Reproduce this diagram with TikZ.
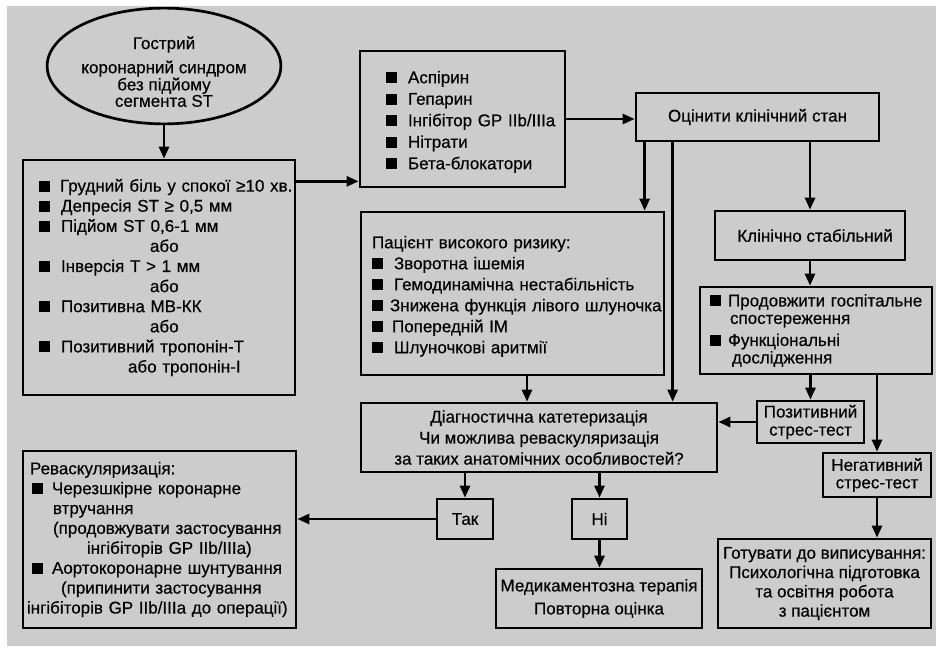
\documentclass[tikz,border=0pt]{standalone}
\usepackage{fontspec}
\setmainfont{Liberation Sans}[FakeBold=0.5]
\usetikzlibrary{shapes.geometric,arrows.meta}
\definecolor{bggray}{RGB}{204,204,204}
\newcommand{\sq}[1][11pt]{\rule{11pt}{11pt}\hspace{#1}}

\begin{document}
\begin{tikzpicture}[x=1pt, y=-1pt, line width=2.7pt, >={Triangle[length=12pt, width=10pt]}]
    \tikzstyle{oval} = [shape=ellipse, draw=black, inner sep=0pt, minimum width=182pt, minimum height=102pt, align=center, font=\fontsize{17}{15}\selectfont]
    \tikzstyle{box} = [shape=rectangle, draw=black, inner sep=0pt, font=\fontsize{17}{20.5}\selectfont]
    \tikzstyle{lbox} = [box, align=left]
    \tikzstyle{cbox} = [box, align=center]

    \useasboundingbox (0,0) rectangle (936,647);
    \fill [white] (0,0) rectangle (936,647);
    \fill [bggray] (7,6) rectangle (936,646);

    \node (acs) [oval] at (164,66) {\rule{0pt}{24pt}Гострий\\[7pt]коронарний синдром\\без підйому\\сегмента ST};
    \node (crit) [lbox, minimum width=272pt, minimum height=235pt, text width=240pt, font=\fontsize{17}{20.1}\selectfont] at (159,277.5)
        {\mbox{\sq[10pt]Грудний біль у спокої ≥10 хв.}\\
         \mbox{\sq Депресія ST ≥ 0,5 мм}\\
         \mbox{\sq Підйом ST 0,6-1 мм}\\
         \hspace*{111pt}або\\
         \mbox{\sq Інверсія T > 1 мм}\\
         \hspace*{111pt}або\\
         \mbox{\sq Позитивна МВ-КК}\\
         \hspace*{111pt}або\\
         \mbox{\sq Позитивний тропонін-Т}\\
         \hspace*{89pt}\mbox{або тропонін-І}};
    \node (drugs) [lbox, minimum width=205pt, minimum height=136pt, text width=153pt, font=\fontsize{17}{21.5}\selectfont] at (462.5,119)
        {\rule{0pt}{18pt}\sq Аспірин\\ \sq Гепарин\\ \mbox{\sq Інгібітор GP IIb/IIIa}\\ \sq Нітрати\\ \sq Бета-блокатори};
    \node (eval) [cbox, minimum width=243pt, minimum height=48pt] at (757.5,117) {Оцінити клінічний стан};
    \node (risk) [lbox, minimum width=303pt, minimum height=163pt, text width=281pt, font=\fontsize{17}{21}\selectfont] at (512.5,293.5)
        {\rule{0pt}{18pt}\mbox{Пацієнт високого ризику:}\\
         \mbox{\sq Зворотна ішемія}\\
         \mbox{\sq Гемодинамічна нестабільність}\\
         \mbox{\sq[7pt]Знижена функція лівого шлуночка}\\
         \mbox{\sq[9pt]Попередній ІМ}\\
         \mbox{\sq Шлуночкові аритмії}};
    \node (stable) [cbox, minimum width=190pt, minimum height=49pt] at (810,235.5) {\hspace*{10pt}Клінічно стабільний};
    \node (cont) [lbox, minimum width=232pt, minimum height=87pt, text width=212pt, font=\fontsize{17}{17.5}\selectfont] at (816,330.5)
        {\mbox{\sq[7pt]Продовжити госпітальне}\\
         \hspace*{20pt}спостереження\\[4.5pt]
         \mbox{\sq[7pt]Функціональні}\\
         \hspace*{22pt}дослідження};
    \node (diag) [cbox, minimum width=356pt, minimum height=69pt, font=\fontsize{17}{21}\selectfont] at (539,437.5)
        {Діагностична катетеризація\\Чи можлива реваскуляризація\\за таких анатомічних особливостей?};
    \node (pos) [cbox, minimum width=107pt, minimum height=42pt, font=\fontsize{17}{18}\selectfont] at (810.5,422) {Позитивний\\стрес-тест};
    \node (neg) [cbox, minimum width=108pt, minimum height=44pt, font=\fontsize{17}{17.5}\selectfont] at (877,475) {Негативний\\стрес-тест};
    \node (yes) [cbox, minimum width=56pt, minimum height=40pt] at (465,519) {Так};
    \node (no) [cbox, minimum width=55pt, minimum height=40pt] at (599.5,519) {Ні};
    \node (med) [cbox, minimum width=206pt, minimum height=59pt, font=\fontsize{17}{23}\selectfont] at (599,598.5)
        {Медикаментозна терапія\\Повторна оцінка};
    \node (final) [cbox, minimum width=213pt, minimum height=89pt, font=\fontsize{17}{19.3}\selectfont] at (824.5,583.5)
        {Готувати до виписування:\\Психологічна підготовка\\та освітня робота\\з пацієнтом};
    \node (revasc) [lbox, minimum width=273pt, minimum height=177pt, text width=259pt, font=\fontsize{17}{19.9}\selectfont] at (159.5,539.5)
        {Реваскуляризація:\\
         \hspace*{2pt}\mbox{\sq[9pt]Черезшкірне коронарне}\\
         \hspace*{23pt}втручання\\
         \hspace*{23pt}\mbox{(продовжувати застосування}\\
         \hspace*{57pt}\mbox{інгібіторів GP IIb/IIIa)}\\
         \hspace*{2pt}\mbox{\sq[9pt]Аортокоронарне шунтування}\\
         \hspace*{31pt}\mbox{(припинити застосування}\\
         \hspace*{-3pt}\mbox{інгібіторів GP IIb/IIIa до операції)}};

    \coordinate (e1) at ([xshift=10pt]eval.south west);
    \coordinate (e2) at ([xshift=38pt]eval.south west);
    \coordinate (r1) at ([xshift=14.5pt]risk.south);

    \draw [->] (acs.south) -- (acs.south |- crit.north);
    \draw [->] (crit.35.6) -- (crit.35.6 -| drugs.west);
    \draw [->] (drugs.east) -- (drugs.east -| eval.west);
    \draw [->] (e1) -- (e1 |- risk.north);
    \draw [->] (e2) -- (e2 |- diag.north);
    \draw [->] (eval.south -| stable.north) -- (stable.north);
    \draw [->] (stable.south) -- (stable.south |- cont.north);
    \draw [->] (cont.south -| pos.north) -- (pos.north);
    \draw [->] (cont.south -| neg.north) -- (neg.north);
    \draw [->] (pos.west) -- (pos.west -| diag.east);
    \draw [->] (r1) -- (r1 |- diag.north);
    \draw [->] (diag.south -| yes.north) -- (yes.north);
    \draw [->] (diag.south -| no.north) -- (no.north);
    \draw [->] (yes.west) -- (yes.west -| revasc.east);
    \draw [->] (no.south) -- (no.south |- med.north);
    \draw [->] (neg.south) -- (neg.south |- final.north);
\end{tikzpicture}
\end{document}
